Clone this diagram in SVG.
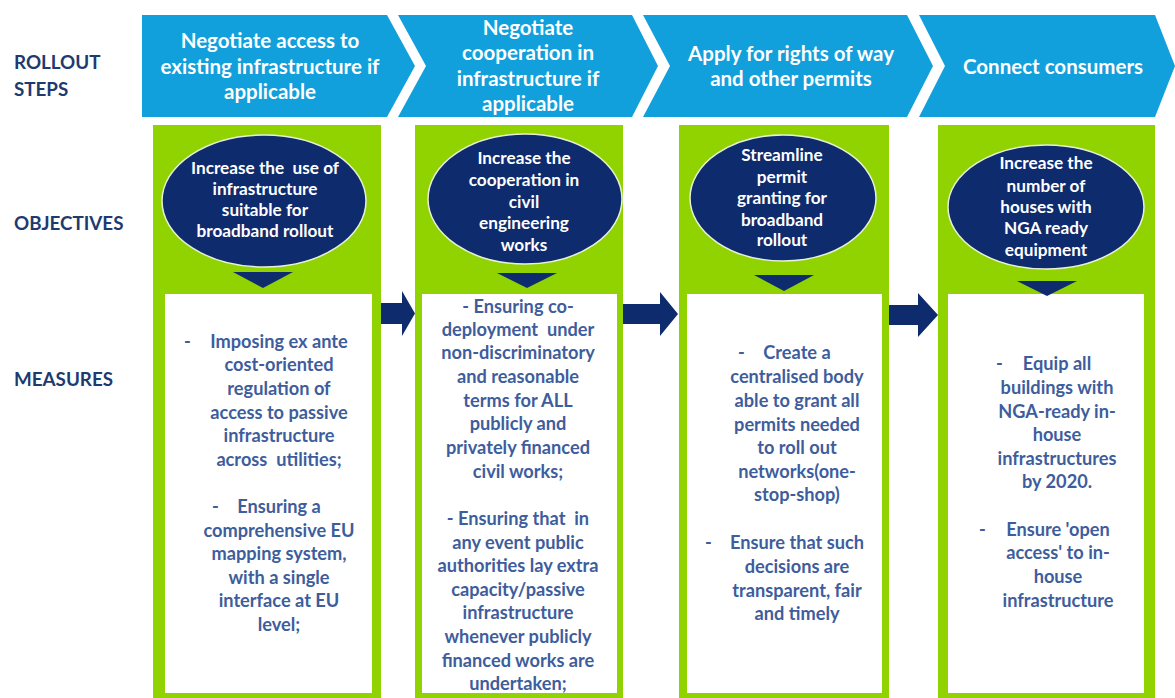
<svg xmlns="http://www.w3.org/2000/svg" width="1175" height="698" viewBox="0 0 1175 698">
<style>
text{white-space:pre}
.lbl{font-family:Lato,"Liberation Sans",sans-serif;font-weight:700;font-size:18.8px;fill:#1E3A6E}
.chev{fill:#12A0DC}
.ct{font-family:Lato,"Liberation Sans",sans-serif;font-weight:700;font-size:20.5px;fill:#fff;text-anchor:middle}
.col{fill:#90D300}
.box{fill:#fff}
.ell{fill:#0E2B6E;stroke:#E8F0D8;stroke-width:1.5}
.tri{fill:#0E2B6E}
.et{font-family:Lato,"Liberation Sans",sans-serif;font-weight:700;font-size:17.2px;fill:#fff;text-anchor:middle}
.mt{font-family:Lato,"Liberation Sans",sans-serif;font-weight:700;font-size:18.2px;fill:#3E5D9C;text-anchor:middle}
.md{font-family:Lato,"Liberation Sans",sans-serif;font-weight:700;font-size:18.2px;fill:#3E5D9C}
.arr{fill:#0E2B6E}
</style>
<rect width="1175" height="698" fill="#fff"/>
<g id="row-labels">
<text class="lbl" x="14" y="69">ROLLOUT</text>
<text class="lbl" x="14" y="96">STEPS</text>
<text class="lbl" x="14" y="230">OBJECTIVES</text>
<text class="lbl" x="14" y="386">MEASURES</text>
</g>
<g id="step1">
<polygon class="chev" points="142,15 387,15 415,66 387,117 142,117"/>
<text class="ct" x="270" y="48">Negotiate access to</text>
<text class="ct" x="270" y="74">existing infrastructure if</text>
<text class="ct" x="270" y="99">applicable</text>
</g>
<g id="step2">
<polygon class="chev" points="398,15 632,15 658,66 632,117 398,117 426,66"/>
<text class="ct" x="528" y="35">Negotiate</text>
<text class="ct" x="528" y="60">cooperation in</text>
<text class="ct" x="528" y="86">infrastructure if</text>
<text class="ct" x="528" y="111">applicable</text>
</g>
<g id="step3">
<polygon class="chev" points="643,15 907,15 933,66 907,117 643,117 670,66"/>
<text class="ct" x="791" y="61">Apply for rights of way</text>
<text class="ct" x="791" y="86">and other permits</text>
</g>
<g id="step4">
<polygon class="chev" points="919,15 1155,15 1175,66 1155,117 919,117 945,66"/>
<text class="ct" x="1053" y="74">Connect consumers</text>
</g>
<g id="column1">
<rect class="col" x="153" y="125" width="228" height="573"/>
<rect class="box" x="165" y="294" width="207" height="399"/>
<ellipse class="ell" cx="264" cy="201" rx="102" ry="66"/>
<polygon class="tri" points="233,272 293,272 263,288"/>
<text class="et" x="265" y="174">Increase the  use of</text>
<text class="et" x="265" y="195">infrastructure</text>
<text class="et" x="265" y="216">suitable for</text>
<text class="et" x="265" y="237">broadband rollout</text>
<text class="md" x="184" y="348">-</text>
<text class="mt" x="279" y="348">Imposing ex ante</text>
<text class="mt" x="279" y="371">cost-oriented</text>
<text class="mt" x="279" y="395">regulation of</text>
<text class="mt" x="279" y="419">access to passive</text>
<text class="mt" x="279" y="442">infrastructure</text>
<text class="mt" x="279" y="466">across  utilities;</text>
<text class="md" x="212" y="513">-</text>
<text class="mt" x="279" y="513">Ensuring a</text>
<text class="mt" x="279" y="537">comprehensive EU</text>
<text class="mt" x="279" y="560">mapping system,</text>
<text class="mt" x="279" y="584">with a single</text>
<text class="mt" x="279" y="607">interface at EU</text>
<text class="mt" x="279" y="631">level;</text>
</g>
<g id="column2">
<rect class="col" x="415" y="125" width="208" height="573"/>
<rect class="box" x="422" y="294" width="195" height="399"/>
<ellipse class="ell" cx="525" cy="199" rx="97" ry="65"/>
<polygon class="tri" points="497,273 557,273 527,288"/>
<text class="et" x="524" y="164">Increase the</text>
<text class="et" x="524" y="186">cooperation in</text>
<text class="et" x="524" y="208">civil</text>
<text class="et" x="524" y="229">engineering</text>
<text class="et" x="524" y="251">works</text>
<text class="mt" x="518" y="313">- Ensuring co-</text>
<text class="mt" x="518" y="336">deployment  under</text>
<text class="mt" x="518" y="359">non-discriminatory</text>
<text class="mt" x="518" y="383">and reasonable</text>
<text class="mt" x="518" y="407">terms for ALL</text>
<text class="mt" x="518" y="430">publicly and</text>
<text class="mt" x="518" y="454">privately financed</text>
<text class="mt" x="518" y="478">civil works;</text>
<text class="mt" x="518" y="525">- Ensuring that  in</text>
<text class="mt" x="518" y="549">any event public</text>
<text class="mt" x="518" y="572">authorities lay extra</text>
<text class="mt" x="518" y="596">capacity/passive</text>
<text class="mt" x="518" y="619">infrastructure</text>
<text class="mt" x="518" y="643">whenever publicly</text>
<text class="mt" x="518" y="667">financed works are</text>
<text class="mt" x="518" y="690">undertaken;</text>
</g>
<g id="column3">
<rect class="col" x="679" y="125" width="210" height="573"/>
<rect class="box" x="687" y="294" width="195" height="399"/>
<ellipse class="ell" cx="783" cy="198" rx="93" ry="63"/>
<polygon class="tri" points="754,275 814,275 784,291"/>
<text class="et" x="782" y="161">Streamline</text>
<text class="et" x="782" y="183">permit</text>
<text class="et" x="782" y="204">granting for</text>
<text class="et" x="782" y="226">broadband</text>
<text class="et" x="782" y="246">rollout</text>
<text class="md" x="738" y="359">-</text>
<text class="mt" x="797" y="359">Create a</text>
<text class="mt" x="797" y="383">centralised body</text>
<text class="mt" x="797" y="407">able to grant all</text>
<text class="mt" x="797" y="431">permits needed</text>
<text class="mt" x="797" y="454">to roll out</text>
<text class="mt" x="797" y="478">networks(one-</text>
<text class="mt" x="797" y="501">stop-shop)</text>
<text class="md" x="705" y="549">-</text>
<text class="mt" x="797" y="549">Ensure that such</text>
<text class="mt" x="797" y="573">decisions are</text>
<text class="mt" x="797" y="597">transparent, fair</text>
<text class="mt" x="797" y="620">and timely</text>
</g>
<g id="column4">
<rect class="col" x="938" y="125" width="217" height="573"/>
<rect class="box" x="948" y="294" width="196" height="399"/>
<ellipse class="ell" cx="1046" cy="207" rx="98" ry="62"/>
<polygon class="tri" points="1017,281 1077,281 1047,296"/>
<text class="et" x="1046" y="169">Increase the</text>
<text class="et" x="1046" y="192">number of</text>
<text class="et" x="1046" y="213">houses with</text>
<text class="et" x="1046" y="234">NGA ready</text>
<text class="et" x="1046" y="256">equipment</text>
<text class="md" x="996" y="370">-</text>
<text class="mt" x="1057" y="370">Equip all</text>
<text class="mt" x="1057" y="394">buildings with</text>
<text class="mt" x="1057" y="418">NGA-ready in-</text>
<text class="mt" x="1057" y="441">house</text>
<text class="mt" x="1057" y="465">infrastructures</text>
<text class="mt" x="1057" y="488">by 2020.</text>
<text class="md" x="979" y="536">-</text>
<text class="mt" x="1058" y="536">Ensure 'open</text>
<text class="mt" x="1058" y="559">access' to in-</text>
<text class="mt" x="1058" y="583">house</text>
<text class="mt" x="1058" y="607">infrastructure</text>
</g>
<g id="connectors">
<polygon class="arr" points="381,303 402,303 402,291 415,313.5 402,336 402,324 381,324"/>
<polygon class="arr" points="623,304 660,304 660,292 678,314 660,336 660,324 623,324"/>
<polygon class="arr" points="889,305 918,305 918,293 938,315 918,337 918,325 889,325"/>
</g>
</svg>
